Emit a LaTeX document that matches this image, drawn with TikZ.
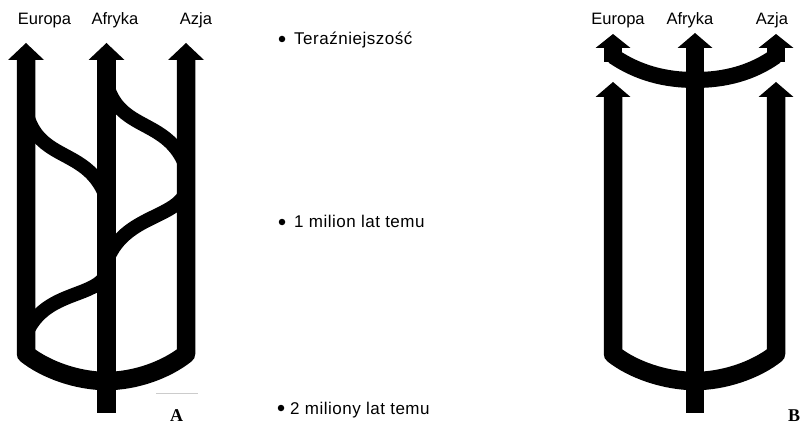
\documentclass[tikz,border=0pt]{standalone}
\usepackage{fontspec}
\setmainfont{Liberation Sans}
\newfontfamily\panelfont{Liberation Serif}
\begin{document}
\begin{tikzpicture}[x=1pt,y=-1pt,
  bar/.style={line width=18.5pt, line join=round},
  band/.style={line width=14pt},
  ubandtop/.style={line width=16pt, line join=round},
  lbl/.style={font=\fontsize{16.5}{16.5}\selectfont, anchor=base, inner sep=0pt},
  timelbl/.style={font=\addfontfeatures{LetterSpace=3}\fontsize{17}{17}\selectfont, anchor=base west, inner sep=0pt},
  dotm/.style={circle, fill=black, minimum size=6.5pt, inner sep=0pt},
  panel/.style={font=\panelfont\bfseries\fontsize{18}{18}\selectfont, anchor=base, inner sep=0pt}]
\useasboundingbox (0,0) rectangle (803,425);

% ---------------- Diagram A ----------------
% outer bars with bottom U
\draw[bar] (26,59) -- (26,354) .. controls (46,370) and (78,381) .. (106.5,381)
  .. controls (135,381) and (166,370) .. (186,354) -- (186,59);
% middle bar with stem
\draw[line width=18.5pt] (106.5,59) -- (106.5,413);
% arrow heads
\fill (8,60) -- (26,43) -- (44,60) -- cycle;
\fill (88.5,60) -- (106.5,43) -- (124.5,60) -- cycle;
\fill (168,60) -- (186,43) -- (204,60) -- cycle;
% crossing bands
\draw[band] (28,118) .. controls (42,160) and (85,150) .. (104,192);
\draw[band] (108,88) .. controls (122,130) and (165,120) .. (184,162);
\draw[band] (184,196) .. controls (170,218) and (125,218) .. (108,258);
\draw[band] (104,278) .. controls (90,297) and (45,293) .. (27,332);
% labels
\node[lbl] (lAE) at (44.5,25) {Europa};
\node[lbl] (lAA) at (115,25) {Afryka};
\node[lbl] (lAZ) at (196,25) {Azja};
\draw[black!20, line width=0.8pt] (156,393) -- (198,393);
\node[panel] (pA) at (176.5,421) {A};

% ---------------- time labels ----------------
\node[dotm] (d1) at (282,39) {};
\node[timelbl] (t1) at (294,45) {Teraźniejszość};
\node[dotm] (d2) at (282,222) {};
\node[timelbl] (t2) at (294,227) {1 milion lat temu};
\node[dotm] (d3) at (281,408) {};
\node[timelbl] (t3) at (290,414) {2 miliony lat temu};

% ---------------- Diagram B ----------------
% lower outer bars with bottom U
\draw[bar] (613,96) -- (613,354) .. controls (633,370) and (666,381) .. (695,381)
  .. controls (724,381) and (756,370) .. (776,354) -- (776,96);
% middle bar with stem
\draw[line width=18.5pt] (695,47) -- (695,413);
% top U
\draw[line width=18.5pt] (613,47) -- (613,62);
\draw[line width=18.5pt] (776,47) -- (776,62);
\draw[ubandtop] (613,56) .. controls (638,73) and (665,80) .. (695,80)
  .. controls (725,80) and (752,73) .. (776,56);
% arrow heads top
\fill (595.5,48) -- (613,34) -- (630.5,48) -- cycle;
\fill (677.5,48) -- (695,33) -- (712.5,48) -- cycle;
\fill (758.5,48) -- (776,34) -- (793.5,48) -- cycle;
% arrow heads lower
\fill (595.5,97) -- (613,82) -- (630.5,97) -- cycle;
\fill (758.5,97) -- (776,82) -- (793.5,97) -- cycle;
% labels
\node[lbl] (lBE) at (618,25) {Europa};
\node[lbl] (lBA) at (690,25) {Afryka};
\node[lbl] (lBZ) at (772,25) {Azja};
\node[panel, anchor=base west] (pB) at (788,421) {B};
\end{tikzpicture}
\end{document}
